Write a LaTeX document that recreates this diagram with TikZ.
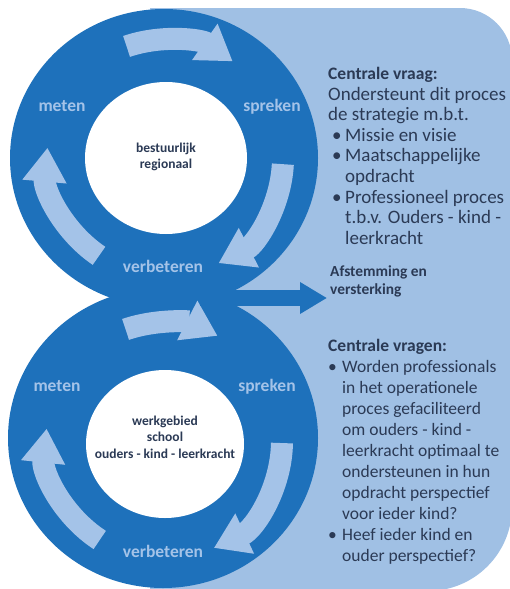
\documentclass[tikz,border=0pt]{standalone}
\usepackage{fontspec}
\setmainfont{Carlito}
\usetikzlibrary{arrows.meta}

\definecolor{ringblue}{HTML}{1E71BB}
\definecolor{panelblue}{HTML}{A0C0E4}
\definecolor{flowblue}{HTML}{A4C3E8}
\definecolor{inktext}{HTML}{2B3A55}

% bullet and hanging indent for the question lists
\newcommand{\bulat}[2]{\hspace*{#1}\makebox[\dimexpr#2-#1\relax][l]{\textbullet}}
\newcommand{\hangat}[1]{\hspace*{#1}}

\tikzset{
  ringlabel/.style={anchor=base, inner sep=0pt, text=flowblue,
    font=\fontsize{17.5}{20}\selectfont\bfseries},
  coretext/.style={align=center, inner sep=0pt, text=inktext,
    font=\fontsize{13.5}{16.5}\selectfont\bfseries},
  flowarrow/.style={draw=flowblue, line width=22pt,
    -{Triangle[length=34pt,width=42pt]}},
  questions/.style={anchor=base west, inner sep=0pt, text=inktext},
}

\begin{document}
\begin{tikzpicture}[x=1pt,y=-1pt]
  \useasboundingbox (0,0) rectangle (510,589);

  % Light panel behind the circles
  \fill[panelblue] (150,8) -- (460,8) .. controls (488.7,8) and (512,31.3) .. (512,60)
    -- (512,507) .. controls (512,553.4) and (474.4,591) .. (428,591)
    -- (150,591) -- cycle;

  % Two dark rings forming an eight
  \fill[ringblue] (164,158) ellipse[x radius=154, y radius=149];
  \fill[ringblue] (163,438) ellipse[x radius=155, y radius=150];
  \fill[white] (166,158) ellipse[x radius=81, y radius=76];
  \fill[white] (165,444) ellipse[x radius=79, y radius=74];

  % Curved arrows inside the rings
  \foreach \cx/\cy/\ra/\rb in {165/158/-109/-55, 165/158/3/63, 165/158/124/185,
                               164/441/-109/-63, 164/441/1/65, 164/441/123/186}
    \draw[flowarrow] (\cx,\cy) ++(\ra:118) arc[start angle=\ra, end angle=\rb, radius=118];

  % Labels of the cycle
  \node[ringlabel] (meten1) at (62,111) {meten};
  \node[ringlabel] (spreken1) at (272,111) {spreken};
  \node[ringlabel] (verbeteren1) at (163,272) {verbeteren};
  \node[ringlabel] (meten2) at (57,391) {meten};
  \node[ringlabel] (spreken2) at (267,391) {spreken};
  \node[ringlabel] (verbeteren2) at (163,557) {verbeteren};

  % Centre texts
  \node[coretext] (core1) at (166,157) {bestuurlijk\\regionaal};
  \node[coretext] (core2) at (165,437) {werkgebied\\school\\ouders - kind - leerkracht};

  % Questions on the right
  \node[questions, font=\fontsize{19}{20.6}\selectfont] (vraag) at (328,79.5) {%
    \begin{tabular}[t]{@{}l@{}}
      {\fontsize{17.5}{20.6}\selectfont\bfseries Centrale vraag:}\\
      Ondersteunt dit proces\\
      de strategie m.b.t.\\
      \bulat{4pt}{17pt}Missie en visie\\
      \bulat{4pt}{17pt}Maatschappelijke\\
      \hangat{17pt}opdracht\\
      \bulat{4pt}{17pt}Professioneel proces\\
      \hangat{17pt}t.b.v. Ouders - kind -\\
      \hangat{17pt}leerkracht
    \end{tabular}};

  \node[questions, align=left, font=\fontsize{15.4}{18}\selectfont\bfseries]
    (afstem) at (330,294) {Afstemming en\\versterking};

  \node[questions, font=\fontsize{17.5}{21}\selectfont] (vragen) at (328,351) {%
    \begin{tabular}[t]{@{}l@{}}
      \textbf{Centrale vragen:}\\
      \bulat{0pt}{14pt}Worden professionals\\
      \hangat{14pt}in het operationele\\
      \hangat{14pt}proces gefaciliteerd\\
      \hangat{14pt}om ouders - kind -\\
      \hangat{14pt}leerkracht optimaal te\\
      \hangat{14pt}ondersteunen in hun\\
      \hangat{14pt}opdracht perspectief\\
      \hangat{14pt}voor ieder kind?\\
      \bulat{0pt}{14pt}Heef ieder kind en\\
      \hangat{14pt}ouder perspectief?
    \end{tabular}};

  % Arrow from the junction to the shared theme
  \coordinate (hub) at (200,298);
  \draw[ringblue, line width=16pt, -{Triangle[length=27pt,width=30pt]},
    shorten >=3pt] (hub) -- (hub -| afstem.west);
\end{tikzpicture}
\end{document}
